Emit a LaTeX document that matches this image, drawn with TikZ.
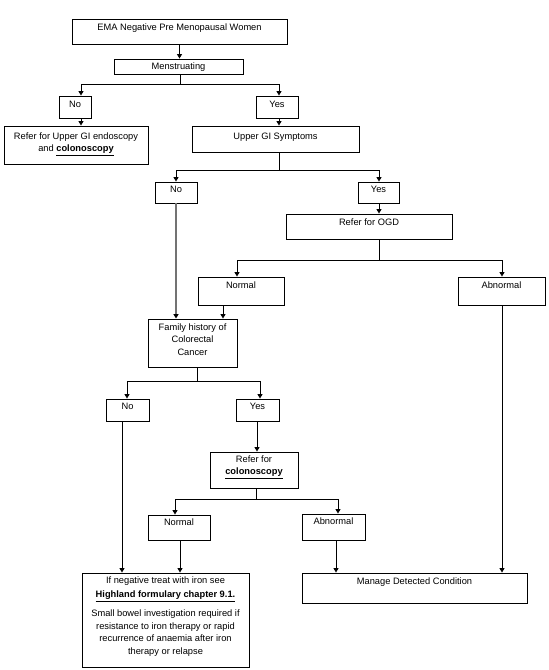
\documentclass[tikz,border=0pt]{standalone}
\usepackage{fontspec}
\setmainfont{Liberation Sans}
\usetikzlibrary{arrows.meta}
\tikzset{
  boxst/.style={draw, line width=0.9pt, rectangle, inner sep=0pt},
  txt/.style={anchor=north, inner sep=0pt, align=center, font=\fontsize{9.3}{12.5}\selectfont},
  arr/.style={line width=0.9pt, -{Triangle[length=4.5pt,width=5pt]}},
  ln/.style={line width=0.9pt},
  grayln/.style={line width=1.3pt, draw=black!55, -{Triangle[length=4.5pt,width=5pt,fill=black,color=black]}}
}
\newcommand\bx[7]{%
  \pgfmathsetmacro\bxw{#4-#2}%
  \pgfmathsetmacro\bxh{#5-#3}%
  \node[boxst, minimum width=\bxw pt, minimum height=\bxh pt] (#1) at ({(#2+#4)/2},{(#3+#5)/2}) {};
  \node[txt] (#1-t) at ([yshift=-#6pt]#1.north) {#7};
}
\begin{document}
\begin{tikzpicture}[x=1pt,y=-1pt]
\useasboundingbox (0,0) rectangle (549,670);
\bx{ema}{72}{19}{287}{44}{5}{EMA Negative Pre Menopausal Women}
\bx{men}{114}{59}{243}{74}{4}{Menstruating}
\bx{no1}{59}{96}{91}{118}{5}{No}
\bx{yes1}{256}{96}{298}{118}{5}{Yes}
\bx{ref1}{4}{126}{148}{164}{7}{Refer for Upper GI endoscopy\\ and \underline{\textbf{colonoscopy}}}
\bx{ugi}{192}{126}{359}{152}{7}{Upper GI Symptoms}
\bx{no2}{155}{182}{197}{203}{4}{No}
\bx{yes2}{358}{182}{399}{203}{4}{Yes}
\bx{ogd}{286}{214}{452}{239}{5}{Refer for OGD}
\bx{nor1}{198}{277}{284}{305}{5}{Normal}
\bx{abn1}{458}{277}{545}{305}{5}{Abnormal}
\bx{fam}{148}{319}{237}{367}{5}{Family history of\\ Colorectal\\ Cancer}
\bx{no3}{106}{399}{149}{421}{4}{No}
\bx{yes3}{236}{399}{279}{421}{4}{Yes}
\bx{col}{210}{452}{298}{488}{4}{Refer for\\ \underline{\textbf{colonoscopy}}}
\bx{nor2}{148}{515}{210}{540}{4}{Normal}
\bx{abn2}{302}{514}{365}{540}{4}{Abnormal}
\bx{left}{82}{573}{249}{667}{4}{If negative treat with iron see\\[1.5pt]
\underline{\textbf{Highland formulary chapter 9.1.}}\\[7pt]
Small bowel investigation required if\\ resistance to iron therapy or rapid\\ recurrence of anaemia after iron\\ therapy or relapse}
\bx{man}{302}{573}{527}{603}{5}{Manage Detected Condition}

% EMA -> Menstruating
\draw[arr] (ema.south) -- (ema.south |- men.north);
% split 1
\coordinate (s1) at (180,84);
\coordinate (s1l) at (81,84);
\coordinate (s1r) at (279,84);
\draw[ln] (men.south -| s1) -- (s1);
\draw[ln] (s1l) -- (s1r);
\draw[arr] (s1l) -- (s1l |- no1.north);
\draw[arr] (s1r) -- (s1r |- yes1.north);
\draw[arr] (s1l |- no1.south) -- (s1l |- ref1.north);
\draw[arr] (s1r |- yes1.south) -- (s1r |- ugi.north);
% split 2
\coordinate (s2) at (279,170);
\coordinate (s2l) at (176,170);
\coordinate (s2r) at (379,170);
\draw[ln] (ugi.south -| s2) -- (s2);
\draw[ln] (s2l) -- (s2r);
\draw[arr] (s2l) -- (s2l |- no2.north);
\draw[arr] (s2r) -- (s2r |- yes2.north);
\draw[arr] (s2r |- yes2.south) -- (s2r |- ogd.north);
% split 3
\coordinate (s3) at (379,260);
\coordinate (s3l) at (237,260);
\coordinate (s3r) at (502,260);
\draw[ln] (ogd.south -| s3) -- (s3);
\draw[ln] (s3l) -- (s3r);
\draw[arr] (s3l) -- (s3l |- nor1.north);
\draw[arr] (s3r) -- (s3r |- abn1.north);
% No (upper GI) -> family history
\draw[grayln] (s2l |- no2.south) -- (s2l |- fam.north);
\draw[arr] ([xshift=-18pt]nor1.south) -- ([xshift=-18pt]nor1.south |- fam.north);
% Abnormal (OGD) -> manage
\draw[arr] (s3r |- abn1.south) -- (s3r |- man.north);
% split 4
\coordinate (s4) at (197,381);
\coordinate (s4l) at (127,381);
\coordinate (s4r) at (260,381);
\draw[ln] (fam.south -| s4) -- (s4);
\draw[ln] (s4l) -- (s4r);
\draw[arr] (s4l) -- (s4l |- no3.north);
\draw[arr] (s4r) -- (s4r |- yes3.north);
\draw[arr] ([xshift=-0.5pt]yes3.south) -- ([xshift=-0.5pt]yes3.south |- col.north);
\draw[arr] ([xshift=-5.5pt]no3.south) -- ([xshift=-5.5pt]no3.south |- left.north);
% split 5
\coordinate (s5) at (256,499);
\coordinate (s5l) at (175,499);
\coordinate (s5r) at (338,499);
\draw[ln] (col.south -| s5) -- (s5);
\draw[ln] (s5l) -- (s5r);
\draw[arr] (s5l) -- (s5l |- nor2.north);
\draw[arr] (s5r) -- (s5r |- abn2.north);
\draw[arr] ([xshift=1pt]nor2.south) -- ([xshift=1pt]nor2.south |- left.north);
\draw[arr] ([xshift=2.5pt]abn2.south) -- ([xshift=2.5pt]abn2.south |- man.north);
\end{tikzpicture}
\end{document}
